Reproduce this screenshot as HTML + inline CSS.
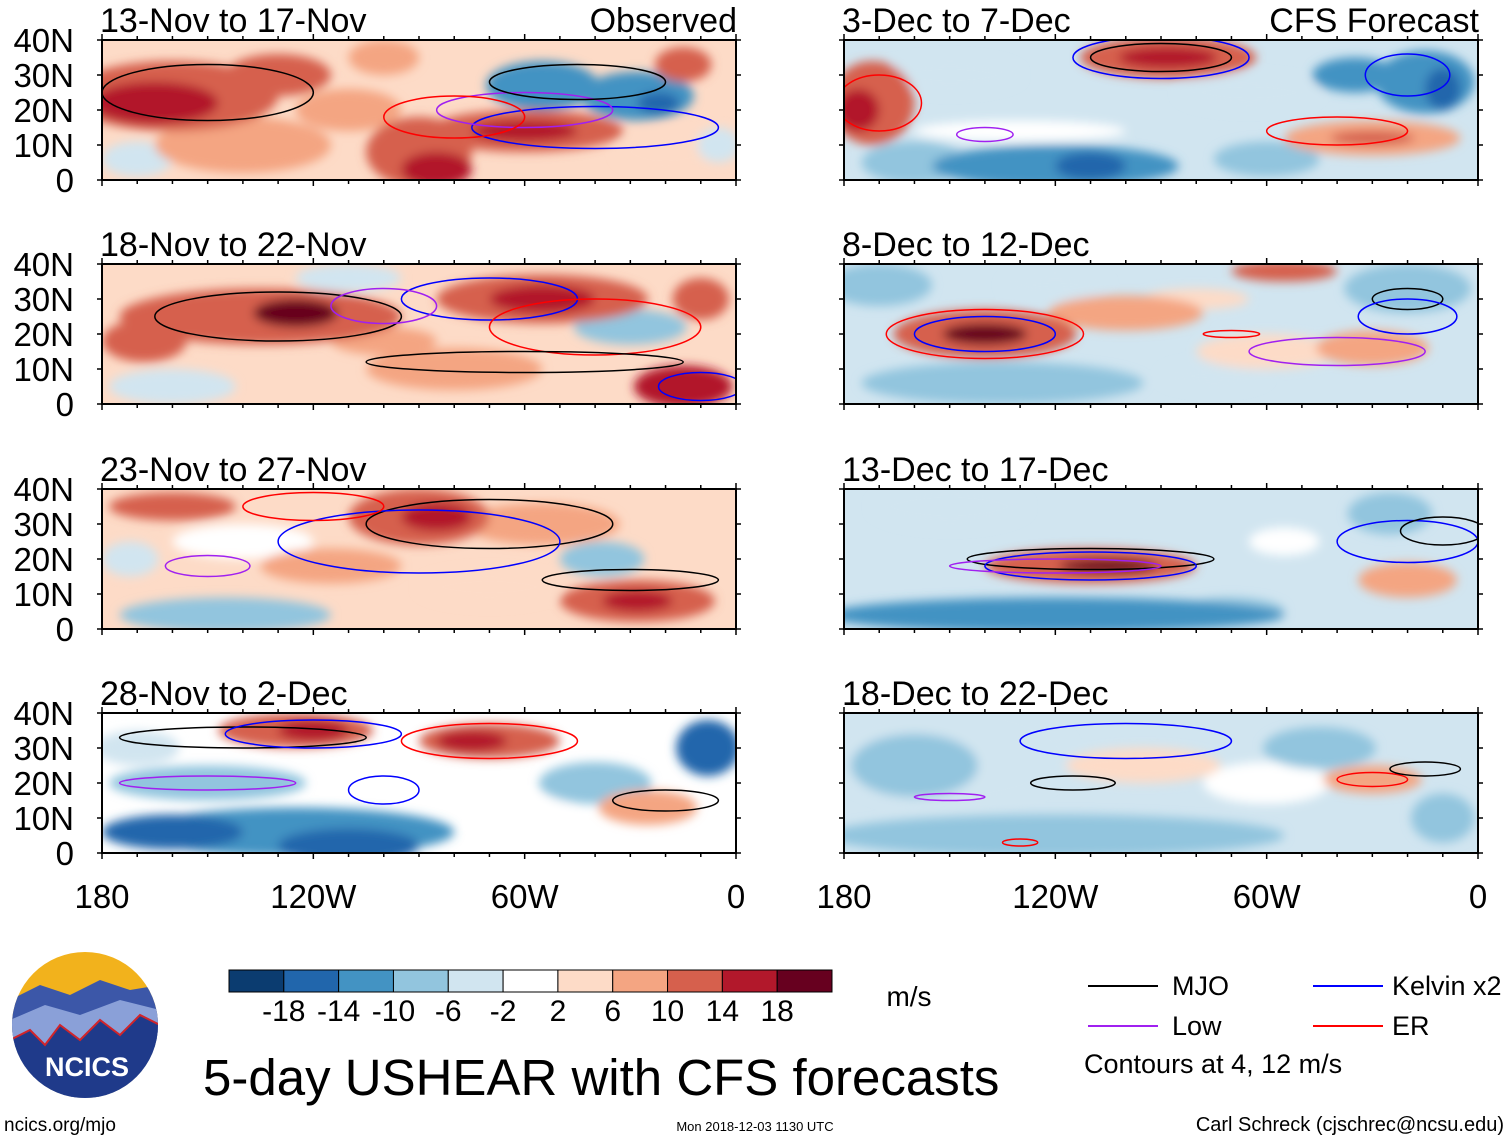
<!DOCTYPE html>
<html><head><meta charset="utf-8">
<style>
body{margin:0;background:#fff;font-family:"Liberation Sans",Arial,sans-serif;}
svg{display:block}
</style></head>
<body>
<svg id="chart" width="1510" height="1141" viewBox="0 0 1510 1141" xmlns="http://www.w3.org/2000/svg">
<defs>
<filter id="blur" x="-20%" y="-20%" width="140%" height="140%"><feGaussianBlur stdDeviation="5"/></filter>
</defs>
<g id="panels"></g>
<g id="axes"></g>
<g id="colorbar"></g>
<text x="909" y="1006" font-size="28" text-anchor="middle">m/s</text>
<g>
<clipPath id="logoclip"><circle cx="85" cy="1025" r="73"/></clipPath>
<g clip-path="url(#logoclip)">
<rect x="10" y="950" width="150" height="150" fill="#f2b21c"/>
<path d="M10 1000 L40 985 L70 995 L100 980 L130 990 L160 985 L160 1100 L10 1100Z" fill="#3c57a8"/>
<path d="M10 1020 L45 1005 L80 1015 L120 1000 L160 1010 L160 1100 L10 1100Z" fill="#8aa0d8"/>
<path d="M10 1040 L30 1030 L45 1045 L60 1025 L80 1040 L100 1020 L120 1035 L140 1015 L160 1025 L160 1100 L10 1100Z" fill="#1f3a8a" stroke="#d1242a" stroke-width="2"/>
</g>
<text x="87" y="1076" font-size="27" font-weight="bold" fill="#fff" text-anchor="middle">NCICS</text>
</g>
<text x="203" y="1095" font-size="51">5-day USHEAR with CFS forecasts</text>
<text x="4" y="1131" font-size="19">ncics.org/mjo</text>
<text x="755" y="1131" font-size="13" text-anchor="middle">Mon 2018-12-03 1130 UTC</text>
<text x="1504" y="1131" font-size="20" text-anchor="end">Carl Schreck (cjschrec@ncsu.edu)</text>
<g>
<line x1="1088" y1="986" x2="1158" y2="986" stroke="#000" stroke-width="2"/><text x="1172" y="995" font-size="27">MJO</text>
<line x1="1313" y1="986" x2="1383" y2="986" stroke="#0000ff" stroke-width="2"/><text x="1392" y="995" font-size="27">Kelvin x2</text>
<line x1="1088" y1="1026" x2="1158" y2="1026" stroke="#a020f0" stroke-width="2"/><text x="1172" y="1035" font-size="27">Low</text>
<line x1="1313" y1="1026" x2="1383" y2="1026" stroke="#ff0000" stroke-width="2"/><text x="1392" y="1035" font-size="27">ER</text>
<text x="1084" y="1073" font-size="27">Contours at 4, 12 m/s</text>
</g>
</svg>
<script>
const levels = [-18,-14,-10,-6,-2,2,6,10,14,18];
const colors = ["#0b3c70","#2166ac","#4393c3","#92c5de","#d1e5f0","#ffffff","#fddbc7","#f4a582","#d6604d","#b2182b","#67001f"];
const panelTitles = ["13-Nov to 17-Nov","3-Dec to 7-Dec","18-Nov to 22-Nov","8-Dec to 12-Dec","23-Nov to 27-Nov","13-Dec to 17-Dec","28-Nov to 2-Dec","18-Dec to 22-Dec"];
const panelBackground = [5,-3,5,-2,4,-3,0,-3];
// blobs: [lon(deg W), lat, lonRadius, latRadius, value]
const blobs0 = [[160,24,30,10,12],[165,22,18,6,16],[130,30,15,6,12],[140,10,25,8,8],[90,8,15,10,12],[85,3,10,5,18],[60,14,28,6,12],[60,14,15,3,16],[55,27,16,7,-10],[28,24,16,7,-12],[22,22,6,3,-16],[15,33,8,5,12],[20,8,14,6,4],[100,35,10,5,8],[5,10,6,5,-4],[110,20,15,6,8],[170,6,10,5,-2]];
const blobs1 = [[88,35,25,6,14],[88,35,14,3,18],[172,22,12,12,14],[176,20,6,6,18],[120,4,35,6,-10],[110,4,10,4,-16],[160,5,15,6,-8],[60,6,15,5,-8],[15,28,14,9,-12],[10,26,5,6,-16],[35,30,12,5,-10],[65,25,20,5,-4],[30,12,25,5,8],[30,12,12,2,12],[150,30,20,5,-4],[130,14,30,3,2]];
const blobs2 = [[135,25,40,8,12],[125,26,12,4,20],[168,18,12,6,12],[55,30,30,7,12],[55,30,15,4,16],[15,5,14,6,16],[30,22,16,5,-6],[110,36,15,4,-4],[160,5,18,5,-2],[80,10,25,6,8],[100,18,15,4,10],[10,30,8,6,12]];
const blobs3 = [[140,20,26,7,14],[140,20,12,3,20],[100,26,22,5,8],[80,30,15,3,6],[55,38,15,3,14],[170,34,15,6,-8],[135,6,40,6,-6],[30,16,16,5,10],[20,33,18,7,-6],[60,15,20,5,3],[120,34,15,4,-4],[75,8,15,4,-2]];
const blobs4 = [[160,35,18,4,14],[90,32,20,8,14],[85,32,10,4,18],[115,18,20,5,10],[55,30,22,6,10],[28,8,22,6,12],[28,8,10,3,16],[145,4,30,5,-8],[38,20,12,5,-8],[172,20,8,5,-4],[140,25,20,5,2],[70,12,20,5,4]];
const blobs5 = [[110,18,30,5,14],[105,18,14,2,20],[120,4,65,5,-10],[150,35,22,6,-4],[20,14,14,5,8],[70,5,15,4,-8],[25,33,12,6,-6],[55,25,10,4,2]];
const blobs6 = [[125,35,22,5,14],[120,35,10,3,18],[70,32,20,5,12],[75,32,10,3,16],[125,6,45,7,-12],[110,2,20,5,-16],[150,20,28,5,-8],[40,20,16,6,-8],[8,30,9,8,-14],[25,13,14,5,8],[170,30,12,5,-4],[160,6,20,5,-16],[60,10,15,6,2]];
const blobs7 = [[95,25,22,5,6],[30,21,14,4,8],[120,5,65,6,-8],[160,25,18,9,-6],[150,28,35,15,-3],[45,30,16,6,-6],[10,10,9,7,-6],[60,20,18,6,-1]];
const allBlobs = [blobs0,blobs1,blobs2,blobs3,blobs4,blobs5,blobs6,blobs7];
// contours: [type, lon, lat, lonRadius, latRadius]
const contours0 = [["mjo",150,25,30,8],["ker",40,15,35,6],["low",60,20,25,5],["er",80,18,20,6],["mjo",45,28,25,5]];
const contours1 = [["mjo",90,35,20,4],["ker",90,35,25,6],["er",170,22,12,8],["low",140,13,8,2],["er",40,14,20,4],["ker",20,30,12,6]];
const contours2 = [["mjo",130,25,35,7],["ker",70,30,25,6],["er",40,22,30,8],["low",100,28,15,5],["mjo",60,12,45,3],["ker",10,5,12,4]];
const contours3 = [["ker",140,20,20,5],["er",140,20,28,7],["mjo",20,30,10,3],["low",40,15,25,4],["er",70,20,8,1],["ker",20,25,14,5]];
const contours4 = [["mjo",70,30,35,7],["ker",90,25,40,9],["low",150,18,12,3],["er",120,35,20,4],["mjo",30,14,25,3]];
const contours5 = [["mjo",110,20,35,3],["ker",110,18,30,4],["low",120,18,30,2],["ker",20,25,20,6],["mjo",10,28,12,4]];
const contours6 = [["mjo",140,33,35,3],["ker",120,34,25,4],["er",70,32,25,5],["low",150,20,25,2],["ker",100,18,10,4],["mjo",20,15,15,3]];
const contours7 = [["ker",100,32,30,5],["mjo",115,20,12,2],["low",150,16,10,1],["er",30,21,10,2],["er",130,3,5,1],["mjo",15,24,10,2]];
const allContours = [contours0,contours1,contours2,contours3,contours4,contours5,contours6,contours7];
const latTicks = ["0","10N","20N","30N","40N"];
const lonTicks = ["180","120W","60W","0"];

const NS="http://www.w3.org/2000/svg";
function mk(tag,attrs,parent){const e=document.createElementNS(NS,tag);for(const k in attrs)e.setAttribute(k,attrs[k]);parent.appendChild(e);return e;}
function colorFor(v){let i=0;while(i<levels.length&&v>levels[i])i++;return colors[i];}
const colX=[102,844], rowY=[40,264,489,713], PW=634, PH=140;
const ctype={mjo:"#000",ker:"#0000ff",low:"#a020f0",er:"#ff0000"};
const panelsG=document.getElementById('panels'), axesG=document.getElementById('axes');
for(let p=0;p<8;p++){
  const x0=colX[p%2], y0=rowY[Math.floor(p/2)];
  const xs=lon=>x0+(180-lon)/180*PW, ys=lat=>y0+PH-lat/40*PH;
  const g=mk('g',{},panelsG);
  
  
  const cp=mk('clipPath',{id:'cp'+p},g); mk('rect',{x:x0,y:y0,width:PW,height:PH},cp);
  const inner=mk('g',{'clip-path':'url(#cp'+p+')'},g);
  mk('rect',{x:x0,y:y0,width:PW,height:PH,fill:colorFor(panelBackground[p])},inner);
  const bg=mk('g',{filter:'url(#blur)'},inner);
  const sorted=allBlobs[p].slice().sort((a,b)=>Math.abs(a[4])-Math.abs(b[4]));
  for(const b of sorted){
    const e=mk('ellipse',{cx:xs(b[0]),cy:ys(b[1]),rx:b[2]/180*PW,ry:b[3]/40*PH,fill:colorFor(b[4])},bg);
    
    
  }
  for(const c of allContours[p]){
    const e=mk('ellipse',{cx:xs(c[1]),cy:ys(c[2]),rx:c[3]/180*PW,ry:c[4]/40*PH,fill:'none',stroke:ctype[c[0]],'stroke-width':1.5},inner);
    
    
  }
  mk('rect',{x:x0,y:y0,width:PW,height:PH,fill:'none',stroke:'#000','stroke-width':2},g);
  for(let lon=0;lon<=180;lon+=10){
    const major=lon%60===0, L=major?6:4;
    mk('line',{x1:xs(lon),y1:y0,x2:xs(lon),y2:y0-L,stroke:'#000','stroke-width':1.5},g);
    mk('line',{x1:xs(lon),y1:y0+PH,x2:xs(lon),y2:y0+PH+L,stroke:'#000','stroke-width':1.5},g);
  }
  for(let lat=0;lat<=40;lat+=10){
    mk('line',{x1:x0,y1:ys(lat),x2:x0-5,y2:ys(lat),stroke:'#000','stroke-width':1.5},g);
    mk('line',{x1:x0+PW,y1:ys(lat),x2:x0+PW+5,y2:ys(lat),stroke:'#000','stroke-width':1.5},g);
  }
  const t=mk('text',{x:x0-2,y:y0-8,'font-size':34},g); t.textContent=panelTitles[p];
  
  
  if(p<2){const t2=mk('text',{x:x0+PW+1,y:y0-8,'font-size':34,'text-anchor':'end'},g);t2.textContent=p===0?"Observed":"CFS Forecast";
    
    }
  if(p%2===0){
    latTicks.forEach((lab,i)=>{const t3=mk('text',{x:74,y:ys(i*10)+12,'font-size':33,'text-anchor':'end'},axesG);t3.textContent=lab;
      
      });
  }
  if(p>=6){
    lonTicks.forEach((lab,i)=>{const t4=mk('text',{x:xs(180-i*60),y:908,'font-size':33,'text-anchor':'middle'},axesG);t4.textContent=lab;
      
      });
  }
}
const cb=document.getElementById('colorbar');
const cbx=229,cbw=603/colors.length;
colors.forEach((c,i)=>{const r=mk('rect',{x:cbx+i*cbw,y:970,width:cbw,height:22,fill:c,stroke:'#000','stroke-width':1},cb);
  
  });
levels.forEach((v,i)=>{const t=mk('text',{x:cbx+(i+1)*cbw,y:1021,'font-size':30,'text-anchor':'middle'},cb);t.textContent=v;
  
  });
</script>
</body></html>
